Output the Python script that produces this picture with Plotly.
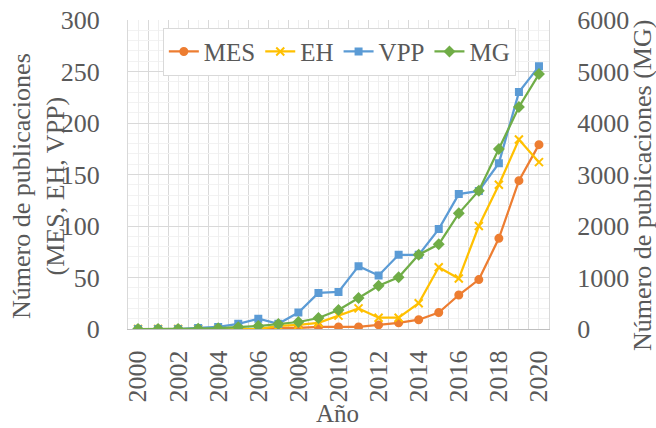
import plotly.graph_objects as go

years = list(range(2000, 2021))
mes = [0, 0, 0, 0, 0, 0, 0, 1, 1, 2, 2, 2, 4, 6, 9, 16, 33, 48, 88, 144, 179]
eh = [0, 0, 0, 0, 0, 0, 0, 3, 4, 6, 13, 20, 11, 11, 25, 60, 49, 100, 140, 184, 162]
vpp = [0, 0, 0, 1, 2, 5, 10, 5, 16, 35, 36, 61, 52, 72, 72, 97, 131, 134, 161, 230, 255]
mg = [0, 0, 0, 5, 15, 33, 58, 97, 136, 214, 369, 602, 841, 1004, 1443, 1645, 2246, 2685, 3495, 4310, 4950]
tick_text = [str(y) if y % 2 == 0 else "" for y in years]

FONT = "Liberation Serif"
GRAY = "#595959"

fig = go.Figure()
series = [
    ("MES", mes, "#ED7D31", "circle", 7, "y"),
    ("EH", eh, "#FFC000", "x-thin-open", 8, "y"),
    ("VPP", vpp, "#5B9BD5", "square", 6, "y"),
    ("MG", mg, "#70AD47", "diamond", 7, "y2"),
]
for name, vals, col, sym, size, ax in series:
    fig.add_trace(go.Scatter(
        x=years, y=vals, name=name, yaxis=ax, mode="lines+markers",
        line=dict(color=col, width=2.25),
        marker=dict(symbol=sym, size=size, color=col, line=dict(color=col, width=2)),
    ))

fig.update_layout(
    width=656, height=428,
    margin=dict(l=128, r=107, t=20, b=99, autoexpand=False),
    paper_bgcolor="white", plot_bgcolor="white",
    font=dict(family=FONT, size=26, color=GRAY),
    showlegend=True,
    legend=dict(
        orientation="h", x=0.502, xanchor="center", y=0.975, yanchor="top",
        bgcolor="white", bordercolor="#d9d9d9", borderwidth=1,
        font=dict(family=FONT, size=25, color=GRAY),
        itemwidth=30, tracegroupgap=0,
    ),
    xaxis=dict(
        range=[1999.5, 2020.5], tickmode="array", tickvals=years, ticktext=tick_text,
        tickangle=-90, ticks="", ticklabelstandoff=10, automargin=False,
        showgrid=True, gridcolor="#efefef", gridwidth=1,
        minor=dict(tick0=1999.5, dtick=1, showgrid=True, gridcolor="#d9d9d9", gridwidth=1),
        showline=True, linecolor="#bfbfbf", linewidth=1, zeroline=False,
        tickfont=dict(family=FONT, size=26, color=GRAY),
    ),
    yaxis=dict(
        range=[0, 300], dtick=50, tick0=0, ticks="", ticklabelstandoff=22, automargin=False,
        showgrid=True, gridcolor="#d9d9d9", gridwidth=1,
        minor=dict(dtick=10, showgrid=True, gridcolor="#f2f2f2", gridwidth=1),
        showline=True, linecolor="#d9d9d9", linewidth=1, zeroline=False,
        tickfont=dict(family=FONT, size=26, color=GRAY),
    ),
    yaxis2=dict(
        range=[0, 6000], dtick=1000, tick0=0, overlaying="y", side="right",
        ticks="", ticklabelstandoff=22, showgrid=False, zeroline=False, automargin=False,
        showline=True, linecolor="#d9d9d9", linewidth=1,
        tickfont=dict(family=FONT, size=26, color=GRAY),
    ),
    annotations=[
        dict(text="Número de publicaciones<br>(MES, EH, VPP)", xref="paper", yref="paper",
             x=-0.2114, y=0.463, textangle=-90, showarrow=False,
             xanchor="center", yanchor="middle", font=dict(family=FONT, size=26, color=GRAY)),
        dict(text="Número de publicaciones (MG)", xref="paper", yref="paper",
             x=1.2209, y=0.466, textangle=-90, showarrow=False,
             xanchor="center", yanchor="middle", font=dict(family=FONT, size=26, color=GRAY)),
        dict(text="Año", xref="paper", yref="paper", x=0.4988, y=-0.275,
             showarrow=False, xanchor="center", yanchor="middle", borderpad=0,
             font=dict(family=FONT, size=25, color=GRAY)),
    ],
)

fig.write_html("out.html", config={"displayModeBar": False},
               post_script="document.body.style.margin='0';document.body.style.overflow='hidden';")
